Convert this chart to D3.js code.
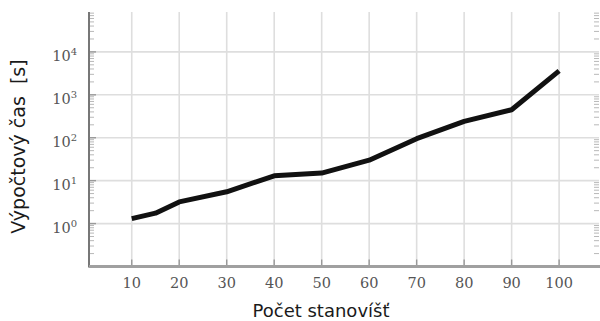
<!DOCTYPE html>
<html>
<head>
<meta charset="utf-8">
<script src="https://cdn.jsdelivr.net/npm/d3@7"></script>
<style>
  html, body { margin: 0; padding: 0; background: #fff; }
  svg { display: block; }
</style>
</head>
<body>
<svg id="chart" width="600" height="321"></svg>
<script>
// ---- data ----
const stations = [10, 15, 20, 30, 40, 50, 60, 70, 80, 90, 100];
const timeSec  = [1.3, 1.75, 3.2, 5.5, 13, 15, 30, 95, 240, 450, 3600];
const xTicks = [10, 20, 30, 40, 50, 60, 70, 80, 90, 100];
const yTickExps = [0, 1, 2, 3, 4];
const xLabel = "Počet stanovíšť";
const yLabel = "Výpočtový čas  [s]";

(function () {
const svg = d3.select("#chart");
const pL = 89, pR = 599, pT = 12, pB = 266.5;
const yMax = 85000;

const x = d3.scaleLinear().domain([1, 108.4]).range([pL, pR]);
const y = d3.scaleLog().domain([0.1, yMax]).range([pB, pT]);

// grid lines
const grid = svg.append("g");
grid.selectAll("line.v").data(xTicks).join("line")
  .attr("x1", d => x(d)).attr("x2", d => x(d))
  .attr("y1", pT).attr("y2", pB)
  .attr("stroke", "#dedede").attr("stroke-width", 1.6);
grid.selectAll("line.h").data(yTickExps).join("line")
  .attr("x1", pL).attr("x2", pR)
  .attr("y1", d => y(Math.pow(10, d))).attr("y2", d => y(Math.pow(10, d)))
  .attr("stroke", "#dedede").attr("stroke-width", 1.6);

// minor ticks (left and right)
const minor = [];
for (let e = -1; e <= 4; e++) for (let m = 2; m <= 9; m++) {
  const v = m * Math.pow(10, e);
  if (v <= yMax) minor.push(v);
}
const mt = svg.append("g").attr("stroke", "#b8b8b8").attr("stroke-width", 1);
mt.selectAll("line.l").data(minor).join("line")
  .attr("x1", pL).attr("x2", pL + 5)
  .attr("y1", d => y(d)).attr("y2", d => y(d));
mt.selectAll("line.r").data(minor).join("line")
  .attr("x1", pR - 5).attr("x2", pR)
  .attr("y1", d => y(d)).attr("y2", d => y(d));
const mj = svg.append("g").attr("stroke", "#999").attr("stroke-width", 1.4);
mj.selectAll("line.lm").data(yTickExps).join("line")
  .attr("x1", pL).attr("x2", pL + 7)
  .attr("y1", d => y(Math.pow(10, d))).attr("y2", d => y(Math.pow(10, d)));
mj.selectAll("line.xm").data(xTicks).join("line")
  .attr("x1", d => x(d)).attr("x2", d => x(d))
  .attr("y1", pB).attr("y2", pB - 7);

// axes lines
svg.append("line").attr("x1", pL).attr("x2", pL).attr("y1", pT).attr("y2", pB + 1)
  .attr("stroke", "#777").attr("stroke-width", 2);
svg.append("line").attr("x1", pL).attr("x2", 600).attr("y1", pB).attr("y2", pB)
  .attr("stroke", "#a0a0a0").attr("stroke-width", 3);

// data line
const line = d3.line()
  .x((d, i) => x(stations[i]))
  .y(d => y(d));
svg.append("path").datum(timeSec)
  .attr("d", line)
  .attr("fill", "none").attr("stroke", "#111").attr("stroke-width", 5)
  .attr("stroke-linejoin", "round").attr("stroke-linecap", "butt");

// x tick labels
svg.append("g").selectAll("text").data(xTicks).join("text")
  .attr("x", d => x(d)).attr("y", 288)
  .attr("text-anchor", "middle")
  .attr("font-family", "DejaVu Serif").attr("font-size", 14.5)
  .attr("fill", "#555")
  .text(d => d);

// y tick labels 10^n
const yl = svg.append("g").selectAll("text").data(yTickExps).join("text")
  .attr("x", 77).attr("y", d => y(Math.pow(10, d)) + 9)
  .attr("text-anchor", "end")
  .attr("font-family", "DejaVu Serif").attr("font-size", 14.5)
  .attr("fill", "#555");
yl.append("tspan").text("10");
yl.append("tspan").attr("dy", -6).attr("font-size", 10).text(d => d);

// axis labels
svg.append("text")
  .attr("x", 321).attr("y", 317)
  .attr("text-anchor", "middle")
  .attr("font-family", "DejaVu Sans").attr("font-size", 18)
  .attr("fill", "#1a1a1a")
  .text(xLabel);
svg.append("text")
  .attr("transform", "translate(25,146.5) rotate(-90)")
  .attr("text-anchor", "middle")
  .attr("font-family", "DejaVu Sans").attr("font-size", 19)
  .attr("fill", "#1a1a1a")
  .style("white-space", "pre")
  .text(yLabel);
})();
</script>
</body>
</html>
